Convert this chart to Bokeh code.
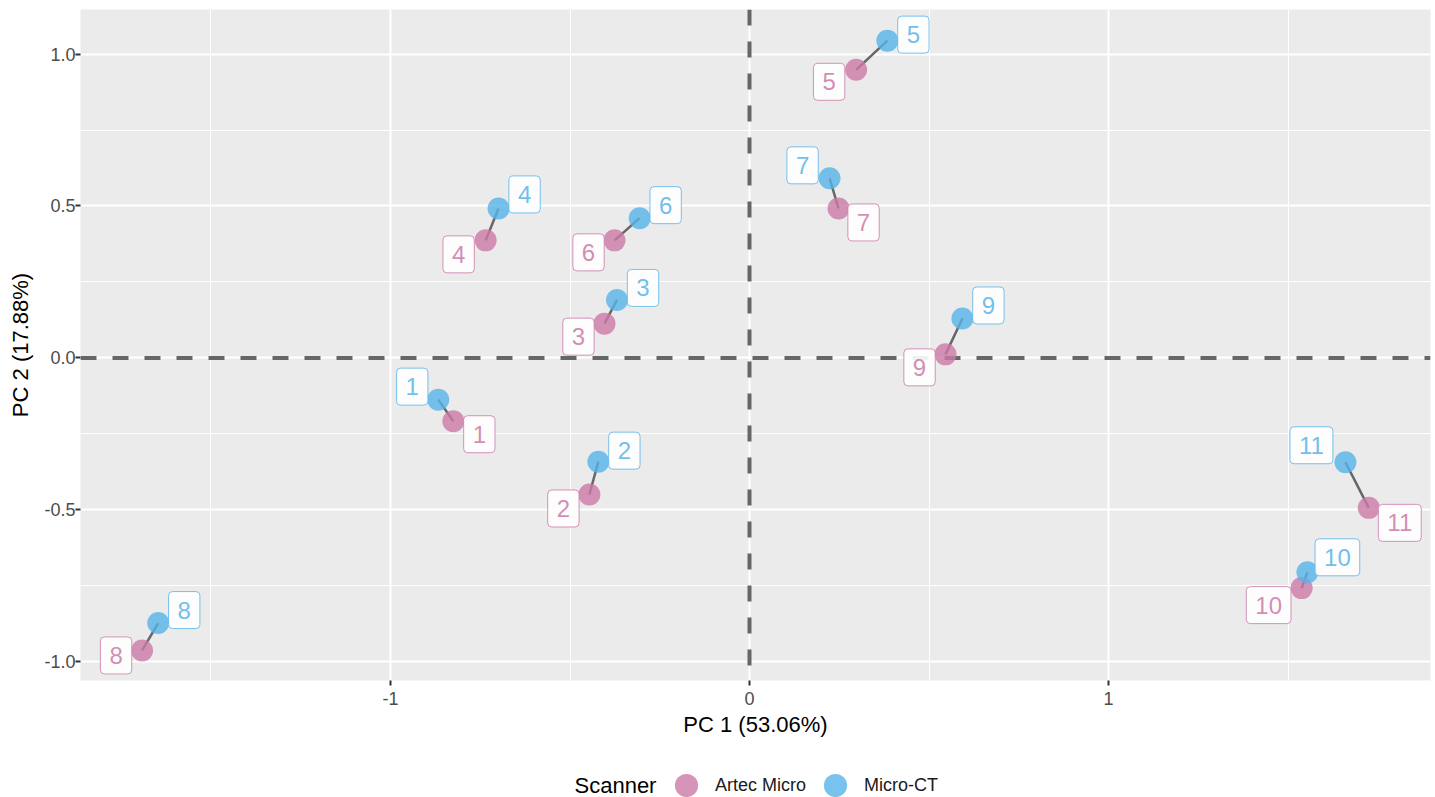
from bokeh.plotting import figure
from bokeh.layouts import column
from bokeh.models import (ColumnDataSource, Span, FixedTicker, PrintfTickFormatter,
                          Legend, LegendItem, Label)
from bokeh.core.properties import value
from bokeh.embed import file_html
from bokeh.resources import INLINE

# ---------------- data ----------------
specimens = [str(i) for i in range(1, 12)]
artec_pc1 = [-0.825, -0.446, -0.404, -0.735, 0.297, -0.376, 0.248, -1.692, 0.546, 1.538, 1.725]
artec_pc2 = [-0.208, -0.449, 0.113, 0.387, 0.948, 0.387, 0.492, -0.962, 0.012, -0.757, -0.493]
microct_pc1 = [-0.867, -0.421, -0.369, -0.699, 0.384, -0.306, 0.223, -1.647, 0.593, 1.554, 1.660]
microct_pc2 = [-0.137, -0.341, 0.191, 0.492, 1.044, 0.460, 0.591, -0.872, 0.130, -0.705, -0.343]
scanner_names = ["Artec Micro", "Micro-CT"]
x_ticks = [-1, 0, 1]
x_minor = [-1.5, -0.5, 0.5, 1.5]
y_ticks = [-1.0, -0.5, 0.0, 0.5, 1.0]
y_minor = [-0.75, -0.25, 0.25, 0.75]

# label nudges in screen pixels (layout only)
artec_dx = [26, -26, -26, -27, -27, -26, 25, -26, -26, -33, 31]
artec_dy = [13, 14, 13, 14, 12, 12, 14, 5, 13, 17, 15]
micro_dx = [-26, 26, 26, 26, 26, 26, -27, 26, 26, 30, -34]
micro_dy = [-13, -11, -12, -14, -6, -13, -13, -13, -13, -15, -17]

PINK = "#CC79A7"
BLUE = "#56B4E9"
FONT = "Liberation Sans"

p = figure(width=1435, height=745, output_backend="svg", toolbar_location=None,
           x_range=(-1.8635, 1.8969), y_range=(-1.0609, 1.1464),
           min_border_left=80, min_border_right=5, min_border_top=9, min_border_bottom=65,
           background_fill_color="#EBEBEB", border_fill_color="white",
           outline_line_color=None)

# axes / grid
p.xaxis.ticker = FixedTicker(ticks=x_ticks, minor_ticks=x_minor)
p.yaxis.ticker = FixedTicker(ticks=y_ticks, minor_ticks=y_minor)
p.xaxis.formatter = PrintfTickFormatter(format="%d")
p.yaxis.formatter = PrintfTickFormatter(format="%.1f")
for ax in (p.xaxis, p.yaxis):
    ax.axis_line_color = None
    ax.major_tick_line_color = "#333333"
    ax.major_tick_line_width = 2
    ax.major_tick_in = 0
    ax.major_tick_out = 5
    ax.minor_tick_line_color = None
    ax.major_label_text_font = FONT
    ax.major_label_text_font_size = "18px"
    ax.major_label_text_color = "#4D4D4D"
    ax.axis_label_text_font = FONT
    ax.axis_label_text_font_size = "22px"
    ax.axis_label_text_font_style = "normal"
    ax.axis_label_text_color = "black"
p.xaxis.axis_label = "PC 1 (53.06%)"
p.yaxis.axis_label = "PC 2 (17.88%)"
p.xaxis.major_label_standoff = 6
p.yaxis.major_label_standoff = 0
p.xaxis.axis_label_standoff = 4
p.yaxis.axis_label_standoff = 8

for g in (p.xgrid, p.ygrid):
    g.grid_line_color = "white"
    g.grid_line_width = 2
    g.minor_grid_line_color = "white"
    g.minor_grid_line_width = 1

# dashed reference lines
for dim in ("height", "width"):
    p.add_layout(Span(location=0, dimension=dim, line_color="#666666", line_width=4,
                      line_dash="16 16", level="underlay"))

# connecting segments
p.segment(x0=artec_pc1, y0=artec_pc2, x1=microct_pc1, y1=microct_pc2,
          line_color="#666666", line_width=2.5)

src_a = ColumnDataSource(dict(x=artec_pc1, y=artec_pc2, label=specimens, dx=artec_dx, dy=artec_dy))
src_m = ColumnDataSource(dict(x=microct_pc1, y=microct_pc2, label=specimens, dx=micro_dx, dy=micro_dy))

p.scatter("x", "y", source=src_a, size=22, fill_color=PINK, fill_alpha=0.8, line_color=None)
p.scatter("x", "y", source=src_m, size=22, fill_color=BLUE, fill_alpha=0.8, line_color=None)

for src, col in ((src_a, PINK), (src_m, BLUE)):
    p.text(x="x", y="y", text="label", x_offset="dx", y_offset="dy", source=src,
           text_font=value(FONT), text_font_size="24px", text_color=col, text_alpha=0.85,
           text_align="center", text_baseline="middle",
           background_fill_color="white", background_fill_alpha=0.9,
           border_line_color=col, border_line_width=1, border_line_alpha=0.8,
           padding=(9, 10), border_radius=4)

# ---------------- legend strip ----------------
# (column layout aligns this strip's frame with the main frame: left edge at x=80)
pl = figure(width=1435, height=52, output_backend="svg", toolbar_location=None,
            x_range=(0, 1), y_range=(0, 1), x_axis_type=None, y_axis_type=None,
            min_border=0, min_border_left=0, min_border_right=0, min_border_top=0,
            min_border_bottom=0, outline_line_color=None,
            background_fill_color="white", border_fill_color="white")
ra = pl.scatter([5], [5], size=22, fill_color=PINK, fill_alpha=0.8, line_color=None)
rm = pl.scatter([5], [5], size=22, fill_color=BLUE, fill_alpha=0.8, line_color=None)
legend = Legend(items=[LegendItem(label=scanner_names[0], renderers=[ra]),
                       LegendItem(label=scanner_names[1], renderers=[rm])],
                location=(577, -18), orientation="horizontal",
                glyph_width=58, glyph_height=60, label_standoff=0, spacing=0,
                padding=0, margin=0, background_fill_alpha=0, border_line_color=None,
                label_text_font=FONT, label_text_font_size="18px", label_text_color="#1A1A1A")
pl.add_layout(legend)
pl.add_layout(Label(x=494, y=12, x_units="screen", y_units="screen", text="Scanner",
                    text_font=FONT, text_font_size="22px", text_color="black",
                    text_align="left", text_baseline="middle"))

open("out.html", "w").write(file_html(column(p, pl, spacing=0), INLINE))
